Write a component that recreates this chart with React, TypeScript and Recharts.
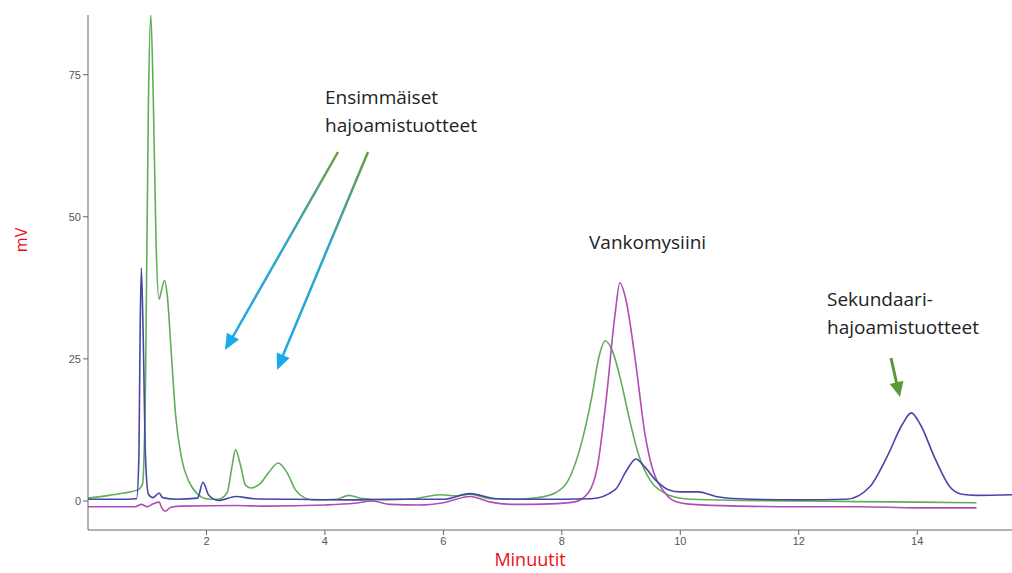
import React from 'react';
import { LineChart, Line, XAxis, YAxis } from 'recharts';

// Retention times (min) and detector signal (mV) per trace
const greenTime = [0, 0.3, 0.6, 0.85, 0.92, 0.97, 1.02, 1.06, 1.1, 1.15, 1.2, 1.24, 1.29, 1.34, 1.4, 1.48, 1.58, 1.7, 1.85, 2.0, 2.2, 2.35, 2.43, 2.49, 2.57, 2.66, 2.75, 2.9, 3.05, 3.21, 3.36, 3.5, 3.65, 3.8, 4.2, 4.4, 4.6, 5.0, 5.5, 5.95, 6.2, 6.45, 6.8, 7.2, 7.6, 7.9, 8.1, 8.3, 8.5, 8.63, 8.73, 8.85, 9.0, 9.15, 9.3, 9.5, 9.7, 9.9, 10.2, 11, 12, 13, 14, 15];
const greenMv = [0.5, 0.9, 1.4, 2.0, 3, 20, 70, 85.5, 72, 45, 35.5, 37, 38.8, 36, 27, 15, 7.5, 3.5, 1.2, 0.4, 0.3, 1.5, 6, 9, 6.5, 2.8, 2.3, 3, 5, 6.7, 5, 2, 0.6, 0.2, 0.3, 1, 0.5, 0.2, 0.4, 1.1, 0.9, 1.2, 0.4, 0.3, 0.6, 1.5, 3.5, 9, 18, 25.5, 28.2, 26.5, 21, 14, 8, 3.5, 1.6, 0.7, 0.3, 0.1, 0, -0.1, -0.2, -0.3];

const magentaTime = [0, 0.8, 0.9, 1.0, 1.1, 1.2, 1.25, 1.3, 1.4, 1.6, 2.5, 3.0, 4.0, 4.5, 4.8, 5.1, 5.6, 6.0, 6.45, 6.8, 7.2, 7.8, 8.2, 8.45, 8.6, 8.75, 8.9, 8.98, 9.08, 9.25, 9.4, 9.55, 9.7, 9.9, 10.2, 11, 12, 13, 14, 15];
const magentaMv = [-1.0, -1.0, -0.6, -1.0, -0.5, -0.2, -1.3, -1.8, -1.1, -0.9, -0.8, -0.9, -0.7, -0.4, 0, -0.6, -0.7, -0.3, 0.8, -0.2, -0.6, -0.5, -0.2, 1.5, 6, 18, 33, 38.4, 35.5, 24, 12, 5, 2, 0, -0.6, -0.9, -1, -1, -1.2, -1.2];

const blueTime = [0, 0.5, 0.82, 0.86, 0.88, 0.9, 0.93, 0.97, 1.02, 1.1, 1.2, 1.26, 1.5, 1.85, 1.94, 2.04, 2.2, 2.5, 2.8, 3.5, 4.5, 5.0, 6.0, 6.45, 6.9, 7.5, 8.5, 8.9, 9.1, 9.25, 9.4, 9.6, 9.8, 10.0, 10.3, 10.6, 11, 12, 12.8, 13.2, 13.5, 13.75, 13.9, 14.05, 14.3, 14.55, 14.75, 15.0, 15.6];
const blueMv = [0.3, 0.3, 0.4, 8, 30, 41, 30, 8, 1.2, 0.6, 1.4, 0.6, 0.3, 0.5, 3.3, 1, 0.1, 0.8, 0.4, 0.3, 0.2, 0.3, 0.3, 1.3, 0.4, 0.3, 0.4, 2, 5.5, 7.4, 6, 3.5, 2, 1.6, 1.6, 0.8, 0.4, 0.2, 0.3, 2.5, 8, 13.5, 15.5, 13.5, 7.5, 2.5, 1.2, 1.0, 1.1];

const xTicks = [2, 4, 6, 8, 10, 12, 14];
const yTicks = [0, 25, 50, 75];

const toPoints = (t: number[], v: number[]) => t.map((x, i) => ({ t: x, mv: v[i] }));

const series = [
  { name: 'green', color: '#62ad5a', data: toPoints(greenTime, greenMv) },
  { name: 'magenta', color: '#b04cb4', data: toPoints(magentaTime, magentaMv) },
  { name: 'blue', color: '#4646a8', data: toPoints(blueTime, blueMv) },
];

const arrowHead = (x1: number, y1: number, x2: number, y2: number, len: number, half: number) => {
  const dx = x2 - x1;
  const dy = y2 - y1;
  const d = Math.hypot(dx, dy);
  const ux = dx / d;
  const uy = dy / d;
  const bx = x2 - ux * len;
  const by = y2 - uy * len;
  return `${x2},${y2} ${bx - uy * half},${by + ux * half} ${bx + uy * half},${by - ux * half}`;
};

const textFont = '"Open Sans", sans-serif';

export default function App() {
  return (
    <div style={{ position: 'absolute', left: 0, top: 0, width: 1012, height: 573, background: '#fff' }}>
      <LineChart width={1012} height={573} margin={{ top: 15, right: 0, bottom: 0, left: 0 }}>
        <XAxis
          type="number"
          dataKey="t"
          domain={[0, 15.6]}
          ticks={xTicks}
          height={43}
          stroke="#666"
          tickSize={5}
          tick={{ fill: '#555', fontSize: 11, fontFamily: 'Liberation Sans, sans-serif' }}
          allowDataOverflow
        />
        <YAxis
          type="number"
          domain={[-5.1, 85.5]}
          ticks={yTicks}
          width={88}
          stroke="#666"
          tickSize={5}
          tick={{ fill: '#555', fontSize: 11, fontFamily: 'Liberation Sans, sans-serif' }}
          allowDataOverflow
        />
        {series.map((s) => (
          <Line
            key={s.name}
            data={s.data}
            dataKey="mv"
            type="monotone"
            stroke={s.color}
            strokeWidth={1.6}
            dot={false}
            isAnimationActive={false}
          />
        ))}
      </LineChart>

      <svg
        width={1012}
        height={573}
        style={{ position: 'absolute', left: 0, top: 0, pointerEvents: 'none' }}
      >
        <defs>
          <linearGradient id="arrowA" gradientUnits="userSpaceOnUse" x1={338} y1={152} x2={225} y2={350}>
            <stop offset="0" stopColor="#6d9d3c" />
            <stop offset="0.45" stopColor="#2fa6c8" />
            <stop offset="1" stopColor="#1aa8ee" />
          </linearGradient>
          <linearGradient id="arrowB" gradientUnits="userSpaceOnUse" x1={368} y1={152} x2={277} y2={370}>
            <stop offset="0" stopColor="#6d9d3c" />
            <stop offset="0.45" stopColor="#2fa6c8" />
            <stop offset="1" stopColor="#1aa8ee" />
          </linearGradient>
        </defs>

        <line x1={338} y1={152} x2={231} y2={340} stroke="url(#arrowA)" strokeWidth={2.5} />
        <polygon points={arrowHead(338, 152, 225, 350, 16, 7)} fill="#1aa8ee" />
        <line x1={368} y1={152} x2={281} y2={360} stroke="url(#arrowB)" strokeWidth={2.5} />
        <polygon points={arrowHead(368, 152, 277, 370, 16, 7)} fill="#1aa8ee" />

        <line x1={891} y1={358} x2={897} y2={385} stroke="#5b9a3c" strokeWidth={3} />
        <polygon points={arrowHead(891, 358, 900, 397, 15, 7)} fill="#5b9a3c" />

        <g fontFamily={textFont} fontSize={19} fill="#222">
          <text x={325} y={104}>Ensimmäiset</text>
          <text x={325} y={132}>hajoamistuotteet</text>
          <text x={589} y={249}>Vankomysiini</text>
          <text x={827} y={306}>Sekundaari-</text>
          <text x={827} y={334}>hajoamistuotteet</text>
        </g>

        <text x={530} y={566} textAnchor="middle" fontFamily={textFont} fontSize={18} fill="#e8101a">
          Minuutit
        </text>
        <text
          x={0}
          y={0}
          transform="translate(27,240) rotate(-90)"
          textAnchor="middle"
          fontFamily={textFont}
          fontSize={16}
          fill="#e8101a"
        >
          mV
        </text>
      </svg>
    </div>
  );
}
